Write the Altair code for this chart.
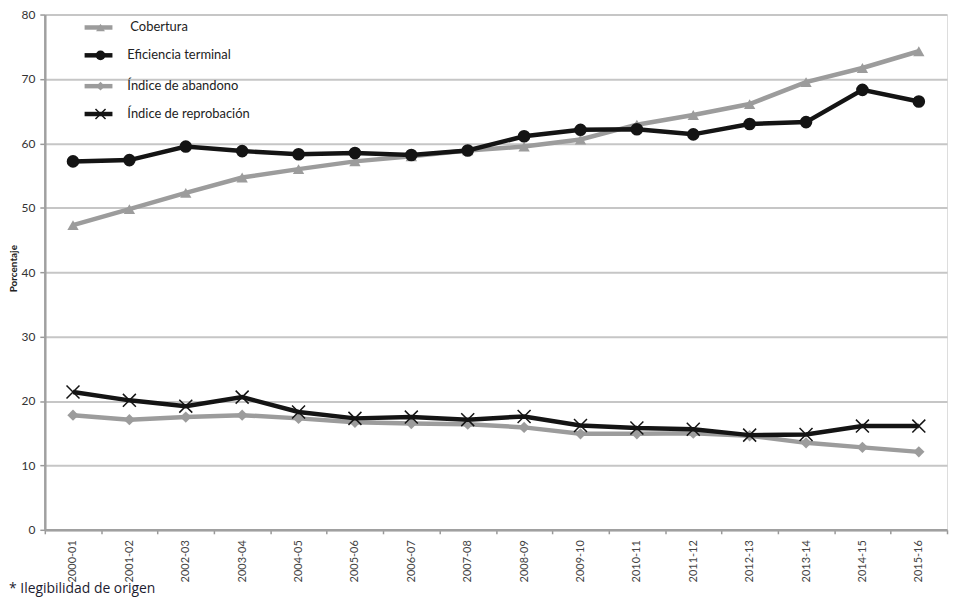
import altair as alt
import pandas as pd

periodos = ["2000-01", "2001-02", "2002-03", "2003-04", "2004-05", "2005-06",
            "2006-07", "2007-08", "2008-09", "2009-10", "2010-11", "2011-12",
            "2012-13", "2013-14", "2014-15", "2015-16"]
cobertura = [47.3, 49.8, 52.3, 54.7, 56.0, 57.2, 58.0, 58.9, 59.5, 60.6, 62.9, 64.4, 66.1, 69.5, 71.7, 74.3]
eficiencia = [57.2, 57.4, 59.5, 58.8, 58.3, 58.5, 58.2, 58.9, 61.1, 62.1, 62.2, 61.4, 63.0, 63.3, 68.3, 66.5]
abandono = [17.8, 17.1, 17.5, 17.8, 17.3, 16.7, 16.5, 16.4, 15.9, 14.9, 14.9, 15.0, 14.6, 13.5, 12.8, 12.1]
reprobacion = [21.4, 20.1, 19.2, 20.6, 18.3, 17.3, 17.5, 17.1, 17.6, 16.2, 15.8, 15.6, 14.7, 14.8, 16.1, 16.1]

nombres = ["Cobertura", "Eficiencia terminal", "Índice de abandono", "Índice de reprobación"]
valores = [cobertura, eficiencia, abandono, reprobacion]
colores = ["#9c9c9c", "#141414", "#9c9c9c", "#141414"]
X_PATH = "M-1,-1L1,1M-1,1L1,-1"
formas = ["triangle-up", "circle", "diamond", X_PATH]
rellenos = [True, True, True, False]
tamanos = [130, 160, 130, 170]

W, H = 907, 518

xenc = alt.X("periodo:N", sort=periodos, bandPosition=0.5,
             scale=alt.Scale(type="band", domain=periodos, paddingInner=0, paddingOuter=0),
             axis=alt.Axis(title=None, labelAngle=-90, labelFontSize=11, labelColor="#444444",
                           labelFont="Lato", labelPadding=6, tickBand="extent",
                           tickColor="#999999", tickSize=4, tickWidth=1.5,
                           domainColor="#a0a0a0", domainWidth=2.5, grid=False))
yenc = alt.Y("valor:Q", scale=alt.Scale(domain=[0, 80], nice=False, zero=True),
             axis=alt.Axis(title="Porcentaje", values=list(range(0, 81, 10)),
                           labelFontSize=12, labelColor="#333333", labelFont="Lato",
                           labelPadding=5, tickColor="#999999", tickSize=5, tickWidth=1.5,
                           domainColor="#a0a0a0", domainWidth=2.5,
                           grid=True, gridColor="#c6c6c6", gridWidth=2,
                           titleFont="Lato", titleFontSize=10, titleFontWeight="bold",
                           titleColor="#222222", titleAngle=270, titleX=-31, titleY=255,
                           titleAlign="center", titleBaseline="middle"))

layers = []
for i, nombre in enumerate(nombres):
    df = pd.DataFrame({"periodo": periodos, "valor": valores[i], "serie": nombre})
    base = alt.Chart(df)
    layers.append(base.mark_line(color=colores[i], strokeWidth=4.5).encode(x=xenc, y=yenc))
    if rellenos[i]:
        pt = base.mark_point(shape=formas[i], filled=True, color=colores[i], opacity=1,
                             size=tamanos[i])
    else:
        pt = base.mark_point(shape=formas[i], filled=False, color=colores[i], opacity=1,
                             size=tamanos[i], strokeWidth=1.5)
    layers.append(pt.encode(x=xenc, y=yenc))

# legend (manual, inside plot area, top-left)
leg_y = [13, 41, 72, 100]
for i, nombre in enumerate(nombres):
    ld = pd.DataFrame({"serie": [nombre]})
    lb = alt.Chart(ld)
    layers.append(lb.mark_rule(color=colores[i], strokeWidth=4.5).encode(
        x=alt.value(40), x2=alt.value(68), y=alt.value(leg_y[i])))
    if rellenos[i]:
        lp = lb.mark_point(shape=formas[i], filled=True, color=colores[i], opacity=1, size=tamanos[i] * 0.6)
    else:
        lp = lb.mark_point(shape=formas[i], filled=False, color=colores[i], opacity=1,
                           size=tamanos[i] * 0.6, strokeWidth=1.5)
    layers.append(lp.encode(x=alt.value(56), y=alt.value(leg_y[i])))
    layers.append(lb.mark_text(align="left", baseline="middle", fontSize=13, font="Lato",
                               color="#222222").encode(
        x=alt.value(86 if i == 0 else 83), y=alt.value(leg_y[i]), text="serie:N"))

nota = pd.DataFrame({"t": ["* Ilegibilidad de origen"]})
layers.append(alt.Chart(nota).mark_text(align="left", baseline="middle", fontSize=14,
                                        font="Open Sans", color="#1c1c30").encode(
    x=alt.value(-36), y=alt.value(578), text="t:N"))

chart = alt.layer(*layers).properties(
    width=W, height=H,
    autosize=alt.AutoSizeParams(type="none"),
    padding={"left": 37, "top": 5, "right": 2, "bottom": 70},
).configure_view(stroke=None).configure(background="white")

chart.save("out.html", embed_options={"renderer": "svg", "actions": False})
